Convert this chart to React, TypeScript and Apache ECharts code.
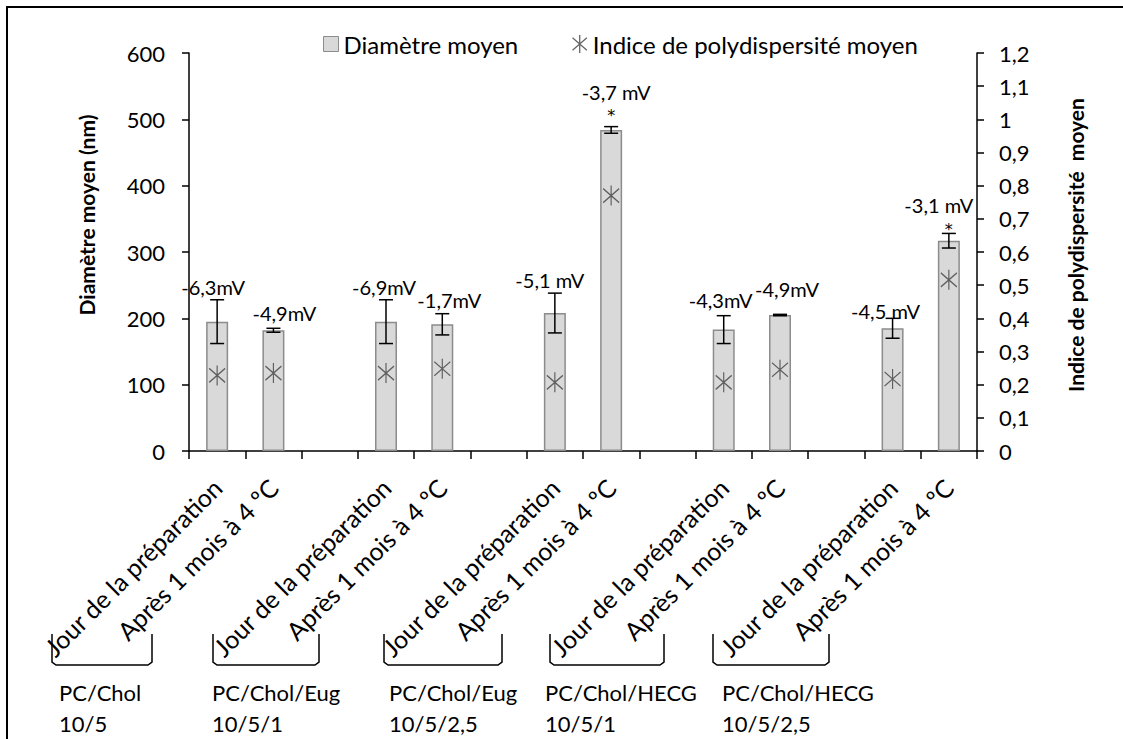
import React, { useEffect, useRef } from "react";
import * as echarts from "echarts";

// ---- data ----
const categories: string[] = [
  "Jour de la préparation", "Après 1 mois à 4 ºC", " ",
  "Jour de la préparation", "Après 1 mois à 4 ºC", "  ",
  "Jour de la préparation", "Après 1 mois à 4 ºC", "   ",
  "Jour de la préparation", "Après 1 mois à 4 ºC", "    ",
  "Jour de la préparation", "Après 1 mois à 4 ºC",
];
const diametre: (number | null)[] = [195, 182, null, 195, 191, null, 208, 484, null, 183, 205, null, 185, 317];
const erreur: (number | null)[] = [33, 3, null, 33, 16, null, 30, 5, null, 21, 1, null, 15, 11];
const pdi: (number | null)[] = [0.228, 0.235, null, 0.235, 0.248, null, 0.207, 0.77, null, 0.207, 0.245, null, 0.217, 0.516];
const zeta: (string | null)[] = ["-6,3mV", "-4,9mV", null, "-6,9mV", "-1,7mV", null, "-5,1 mV", "-3,7 mV", null, "-4,3mV", "-4,9mV", null, "-4,5 mV", "-3,1 mV"];
const significatif: boolean[] = [false, false, false, false, false, false, false, true, false, false, false, false, false, true];
const groupes: string[][] = [
  ["PC/Chol", "10/5"],
  ["PC/Chol/Eug", "10/5/1"],
  ["PC/Chol/Eug", "10/5/2,5"],
  ["PC/Chol/HECG", "10/5/1"],
  ["PC/Chol/HECG", "10/5/2,5"],
];
const leftTicks = { min: 0, max: 600, interval: 100 };
const rightTicks = { min: 0, max: 1.2, interval: 0.1 };

// ---- layout (decoration only, pixels) ----
const FONT = "Lato";
const groupLabelX = [59, 212, 389, 545, 722];
const brackets = [
  [52, 152], [213, 319], [384, 502], [550, 664], [713, 829],
];
const labelDx = [-4, 11, 0, -2, 7, 0, -5, 5, 0, -3, 7, 0, -7, -10];
const labelUp = [13, 15, 0, 13, 14, 0, 13, 35, 0, 16, 25, 0, 7, 28];
const starUp = [0, 0, 0, 0, 0, 0, 0, 15, 0, 0, 0, 0, 0, 8];
const STAR = "path://M0 3L16 17M16 3L0 17M8 0L8 20";

export default function App() {
  const ref = useRef<HTMLDivElement>(null);
  useEffect(() => {
    if (!ref.current) return;
    const chart = echarts.init(ref.current, undefined, { renderer: "svg" });
    const errData = diametre
      .map((d, i) => (d == null ? null : [i, d - (erreur[i] || 0), d + (erreur[i] || 0)]))
      .filter((r) => r != null);

    const graphics: any[] = [
      {
        type: "rect",
        shape: { x: 7, y: 7, width: 1200, height: 800 },
        style: { fill: "none", stroke: "#000", lineWidth: 2 },
        silent: true,
      },
      {
        type: "text",
        x: 86,
        y: 215,
        rotation: Math.PI / 2,
        style: {
          text: "Diamètre moyen (nm)",
          fontFamily: FONT,
          fontSize: 21,
          fontWeight: "bold",
          fill: "#000",
          align: "center",
          verticalAlign: "middle",
        },
      },
      {
        type: "text",
        x: 1075,
        y: 245,
        rotation: Math.PI / 2,
        style: {
          text: "Indice de polydispersité  moyen",
          fontFamily: FONT,
          fontSize: 21,
          fontWeight: "bold",
          fill: "#000",
          align: "center",
          verticalAlign: "middle",
        },
      },
    ];
    brackets.forEach(([l, r]) => {
      const top = 634, bot = 665;
      graphics.push({
        type: "polyline",
        shape: { points: [[l, top], [l, bot - 3], [l + 4, bot], [r - 4, bot], [r, bot - 3], [r, top]] },
        style: { stroke: "#000", lineWidth: 1.5, fill: "none" },
        silent: true,
      });
    });
    groupes.forEach((g, i) => {
      graphics.push({
        type: "text",
        x: groupLabelX[i],
        y: 677,
        style: {
          text: g.join("\n"),
          fontFamily: FONT,
          fontSize: 22,
          lineHeight: 31,
          fill: "#000",
          align: "left",
          verticalAlign: "top",
        },
      });
    });

    const option: any = {
      animation: false,
      backgroundColor: "#fff",
      textStyle: { fontFamily: FONT },
      grid: { left: 189, right: 146, top: 53, bottom: 288, containLabel: false },
      legend: [
        {
          data: [{ name: "Diamètre moyen", icon: "rect", itemStyle: { color: "#d9d9d9", borderColor: "#8c8c8c", borderWidth: 1 } }],
          left: 318,
          top: 27,
          itemWidth: 15,
          itemHeight: 15,
          selectedMode: false,
          textStyle: { fontFamily: FONT, fontSize: 24, color: "#000" },
        },
        {
          data: [{ name: "Indice de polydispersité moyen", icon: STAR, itemStyle: { color: "none", borderColor: "#404040", borderWidth: 1.3 } }],
          left: 565,
          top: 27,
          itemWidth: 16,
          itemHeight: 18,
          selectedMode: false,
          textStyle: { fontFamily: FONT, fontSize: 24, color: "#000" },
        },
      ],
      xAxis: {
        type: "category",
        data: categories,
        axisLine: { lineStyle: { color: "#000", width: 1.5 } },
        axisTick: { show: true, length: 8, lineStyle: { color: "#000", width: 1.5 } },
        axisLabel: {
          interval: 0,
          rotate: 45,
          margin: 32,
          fontFamily: FONT,
          fontSize: 25,
          color: "#000",
        },
      },
      yAxis: [
        {
          type: "value",
          ...leftTicks,
          axisLine: { show: true, lineStyle: { color: "#000", width: 1.5 } },
          axisTick: { show: true, length: 7, lineStyle: { color: "#000", width: 1.5 } },
          splitLine: { show: false },
          axisLabel: { margin: 24, fontFamily: FONT, fontSize: 22, color: "#000" },
        },
        {
          type: "value",
          position: "right",
          ...rightTicks,
          axisLine: { show: true, lineStyle: { color: "#000", width: 1.5 } },
          axisTick: { show: true, length: 7, lineStyle: { color: "#000", width: 1.5 } },
          splitLine: { show: false },
          axisLabel: {
            margin: 22,
            fontFamily: FONT,
            fontSize: 22,
            color: "#000",
            formatter: (v: number) => String(Math.round(v * 10) / 10).replace(".", ","),
          },
        },
      ],
      series: [
        {
          name: "Diamètre moyen",
          type: "bar",
          data: diametre,
          barWidth: 22,
          itemStyle: { color: "#d9d9d9", borderColor: "#8c8c8c", borderWidth: 1.5 },
        },
        {
          name: "Erreur",
          type: "custom",
          data: errData,
          encode: { x: 0, y: [1, 2] },
          clip: false,
          z: 5,
          renderItem: (params: any, api: any) => {
            const i = api.value(0);
            const lo = api.coord([i, api.value(1)]);
            const hi = api.coord([i, api.value(2)]);
            const cx = lo[0];
            const cap = 7;
            const ls = { stroke: "#000", lineWidth: 1.5 };
            const children: any[] = [
              { type: "line", shape: { x1: cx, y1: lo[1], x2: cx, y2: hi[1] }, style: ls },
              { type: "line", shape: { x1: cx - cap, y1: lo[1], x2: cx + cap, y2: lo[1] }, style: ls },
              { type: "line", shape: { x1: cx - cap, y1: hi[1], x2: cx + cap, y2: hi[1] }, style: ls },
            ];
            if (significatif[i]) {
              children.push({
                type: "text",
                x: cx,
                y: hi[1] - starUp[i] + 4,
                style: { text: "*", fontFamily: "DejaVu Sans", fontSize: 16, fill: "#000", align: "center", verticalAlign: "middle" },
              });
            }
            children.push({
              type: "text",
              x: cx + labelDx[i],
              y: hi[1] - labelUp[i],
              style: {
                text: zeta[i] || "",
                fontFamily: FONT,
                fontSize: 20,
                fill: "#000",
                align: "center",
                verticalAlign: "middle",
              },
            });
            return { type: "group", children };
          },
        },
        {
          name: "Indice de polydispersité moyen",
          type: "scatter",
          yAxisIndex: 1,
          data: pdi,
          symbol: STAR,
          symbolSize: [16, 20],
          z: 6,
          itemStyle: { color: "none", borderColor: "#404040", borderWidth: 1.3 },
        },
      ],
      graphic: graphics,
    };
    chart.setOption(option);
    return () => chart.dispose();
  }, []);
  return (
    <div
      ref={ref}
      style={{ position: "fixed", left: 0, top: 0, width: 1123, height: 739, background: "#fff" }}
    />
  );
}
